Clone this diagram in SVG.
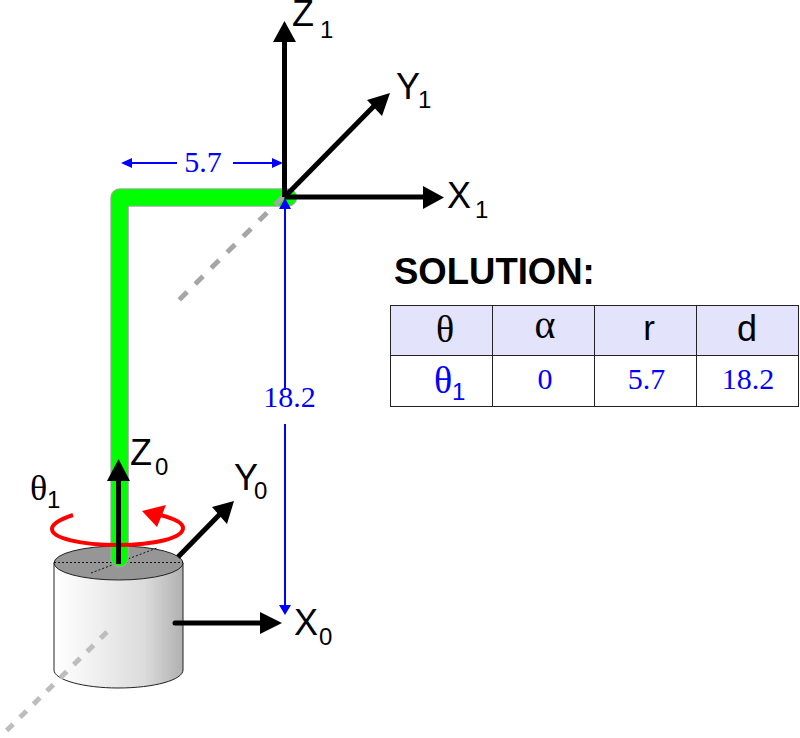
<svg xmlns="http://www.w3.org/2000/svg" width="800" height="738" viewBox="0 0 800 738">
<style>
.a{font-family:"Liberation Sans",Arial,sans-serif;fill:#000}
.s{font-family:"Liberation Serif","Times New Roman",serif}
.b{fill:#00f}
.sub{font-size:24px;font-family:"Liberation Sans",Arial,sans-serif}
.big{font-size:36px}
.num{font-size:30px}
.ax{stroke:#000;stroke-width:5;fill:none}
.blue{stroke:#00f;stroke-width:2;fill:none}
.grid{stroke:#222;stroke-width:1;fill:none}
</style>
<defs>
<linearGradient id="cyl" x1="0" x2="1" y1="0" y2="0">
<stop offset="0" stop-color="#fff"/><stop offset="0.2" stop-color="#f6f6f6"/><stop offset="0.7" stop-color="#dcdcdc"/><stop offset="1" stop-color="#b0b0b0"/>
</linearGradient>
</defs>
<g id="cylinder">
<path d="M54 563V670C54 680 84 688 118 688C154 688 183 680 183 670V563Z" fill="url(#cyl)" stroke="#222" stroke-width="1"/>
<ellipse cx="118.500" cy="563" rx="64.500" ry="17" fill="#969696" stroke="#222" stroke-width="1"/>
<path d="M54 562.500H183M91 573L157 548" stroke="#111" stroke-width="1" stroke-dasharray="2 2" fill="none"/>
</g>
<g id="base-axis-dash"><path d="M107 632L0 737" fill="none" stroke="#bdbdbd" stroke-width="5" stroke-dasharray="9 9.800"/></g>
<g id="link">
<path d="M119.600 558V197.500H288" fill="none" stroke="#a6a6a6" stroke-width="18.500" stroke-linejoin="round" stroke-linecap="round"/>
<path d="M119.600 558V197.500H288" fill="none" stroke="#0f0" stroke-width="16.500" stroke-linejoin="round" stroke-linecap="round"/>
<path d="M283 197L179 300" fill="none" stroke="#a6a6a6" stroke-width="5" stroke-dasharray="11 11.500"/>
</g>
<g id="connectors">
<path class="blue" d="M285 209V390M285 424V606"/>
<path d="M279 605H291L285 615Z" fill="#00f"/>
<path d="M279 209H291L285 198Z" fill="#00f"/>
<path class="blue" d="M132 163H177M233 163H272"/>
<path d="M121 163L132 158V168Z" fill="#00f"/>
<path d="M283 163L272 158V168Z" fill="#00f"/>
<g id="rotation">
<path d="M73 515C58 520 52 525 52 529C52 538 80 545 118 545C155 545 183 538 183 528C183 522 172 518 160 515" fill="none" stroke="#f00" stroke-width="4"/>
<path d="M142 511L166 505L157 527Z" fill="#f00"/>
</g>
<g id="frame1-axes">
<path class="ax" d="M284.500 197V38"/><path d="M273 42H296L284.500 21Z"/>
<path class="ax" d="M284.500 197H428"/><path d="M423 186V209L444 197.500Z"/>
<path class="ax" d="M284.500 197L376 104"/><path d="M367 100L390 93L382 116Z"/>
</g>
<g id="frame0-axes">
<path class="ax" d="M118.500 564V475"/><path d="M107 481H130L118.500 459Z"/>
<path class="ax" d="M178 557L222 512"/><path d="M212 507L234 501L227 524Z"/>
<path class="ax" d="M175 623H265" stroke-linecap="round"/><path d="M260 612V634L282 623Z"/>
</g>
</g>
<g id="labels">
<text class="a big" x="292" y="26">Z<tspan class="sub" x="320" y="38">1</tspan></text>
<text class="a big" x="396" y="99">Y<tspan class="sub" x="418" y="108">1</tspan></text>
<text class="a big" x="447" y="208">X<tspan class="sub" x="475" y="218">1</tspan></text>
<text class="a big" x="130" y="465">Z<tspan class="sub" x="155" y="475">0</tspan></text>
<text class="a big" x="234" y="490">Y<tspan class="sub" x="254" y="499">0</tspan></text>
<text class="a big" x="294" y="635">X<tspan class="sub" x="319" y="645">0</tspan></text>
<text class="s" x="30" y="500" font-size="36">θ<tspan class="sub" x="47" y="508">1</tspan></text>
<text class="s b num" x="203" y="172" text-anchor="middle">5.7</text>
<text class="s b num" x="289.500" y="407" text-anchor="middle">18.2</text>
</g>
<g id="solution">
<text class="a" x="394" y="284" font-size="36.500" font-weight="700">SOLUTION:</text>
<rect x="390.500" y="305.500" width="408" height="50" fill="#e3e3fb"/>
<path class="grid" d="M390.500 305.500H799M390.500 355.500H799M390.500 406.500H799M390.500 305V407M492.500 305V407M594.500 305V407M696.500 305V407M798.500 305V407"/>
<text class="s" x="445" y="341.500" font-size="38" text-anchor="middle">θ</text>
<text class="s" x="545" y="338" font-size="40" text-anchor="middle">α</text>
<text class="a" x="649" y="340" font-size="35" text-anchor="middle">r</text>
<text class="a" x="747" y="341" font-size="36" text-anchor="middle">d</text>
<text class="s b" x="434" y="393" font-size="38">θ<tspan class="sub" x="452" y="400">1</tspan></text>
<text class="s b num" x="545" y="389" text-anchor="middle">0</text>
<text class="s b num" x="646.500" y="389" text-anchor="middle">5.7</text>
<text class="s b num" x="748" y="389" text-anchor="middle">18.2</text>
</g>
</svg>
